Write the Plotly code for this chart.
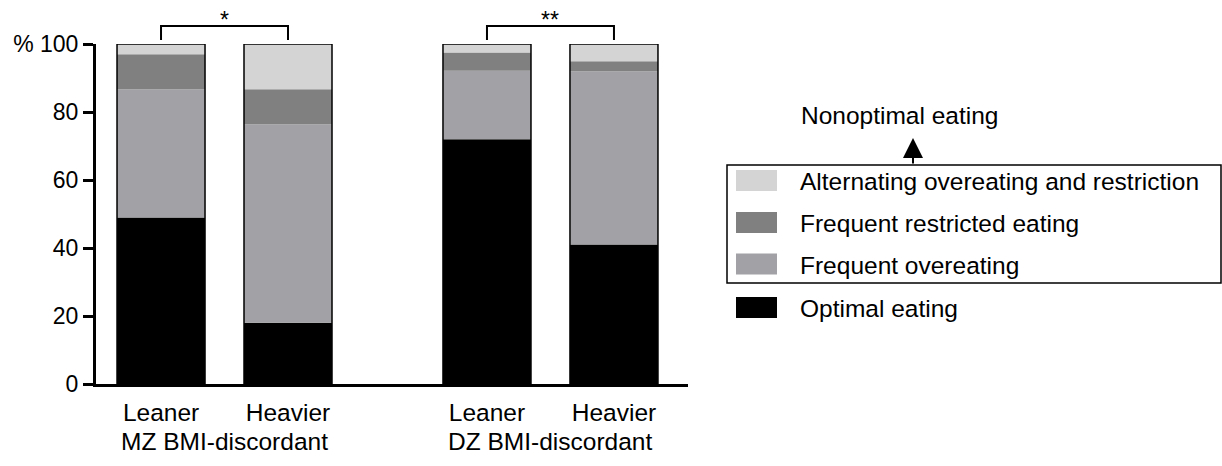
import numpy as np
import plotly.graph_objects as go

W, H = 1222, 466

# ---- data ----
groups = ["MZ BMI-discordant", "DZ BMI-discordant"]
members = ["Leaner", "Heavier"]
optimal = [49.0, 18.0, 72.0, 41.0]
overeating = [37.7, 58.4, 20.1, 51.0]
restricted = [10.3, 10.3, 5.4, 2.9]
alternating = [3.0, 13.3, 2.5, 5.1]
significance = ["*", "**"]

series_names = ["Optimal eating", "Frequent overeating",
                "Frequent restricted eating", "Alternating overeating and restriction"]
series_colors = ["#000000", "#a2a1a5", "#808080", "#d4d4d4"]
series_values = [optimal, overeating, restricted, alternating]

# ---- layout helpers ----
GROUP_STEP = 2.567
BAR_W = 0.693
x_pos = [g * GROUP_STEP + i for g in range(len(groups)) for i in range(len(members))]
tick_text = [m for g in groups for m in members]

FONT = "Liberation Sans, Arial, Helvetica, sans-serif"
TXT = 24.5

def px(x):
    return x / W

def py(y):
    return 1 - y / H

fig = go.Figure()

base = np.zeros(len(x_pos))
for name, col, vals in zip(series_names, series_colors, series_values):
    v = np.array(vals)
    fig.add_trace(go.Bar(x=x_pos, y=v, base=base.copy(), width=BAR_W,
                         marker=dict(color=col, line=dict(width=0)),
                         name=name, showlegend=False))
    base = base + v

# outline around each full bar
fig.add_trace(go.Bar(x=x_pos, y=base, base=np.zeros(len(x_pos)), width=BAR_W,
                     marker=dict(color="rgba(0,0,0,0)", line=dict(color="black", width=1.5)),
                     showlegend=False, hoverinfo="skip"))

shapes = []
# significance brackets
yb_top, yb_leg = py(26), py(40)
for g, sig in enumerate(significance):
    xa, xb = x_pos[2 * g], x_pos[2 * g + 1]
    shapes.append(dict(type="path", xref="x", yref="paper",
                       path=f"M {xa},{yb_leg} L {xa},{yb_top} L {xb},{yb_top} L {xb},{yb_leg}",
                       line=dict(color="black", width=2)))
    fig.add_annotation(x=(xa + xb) / 2, y=py(5), xref="x", yref="paper",
                       text=sig, showarrow=False, xanchor="center", yanchor="top",
                       font=dict(size=23, color="black", family=FONT))
    fig.add_annotation(x=(xa + xb) / 2, y=py(441), xref="x", yref="paper",
                       text=groups[g], showarrow=False, xanchor="center", yanchor="middle",
                       font=dict(size=TXT, color="black", family=FONT))

# custom legend
row_y = [180.5, 222.5, 264.0, 307.5]
legend_order = [3, 2, 1, 0]
for ry, idx in zip(row_y, legend_order):
    shapes.append(dict(type="rect", xref="paper", yref="paper",
                       x0=px(736), x1=px(777), y0=py(ry - 10.5), y1=py(ry + 10.5),
                       fillcolor=series_colors[idx], line=dict(width=0)))
    fig.add_annotation(x=px(798), y=py(ry + 1), xref="paper", yref="paper",
                       text=series_names[idx], showarrow=False,
                       xanchor="left", yanchor="middle",
                       font=dict(size=TXT, color="black", family=FONT))
shapes.append(dict(type="rect", xref="paper", yref="paper",
                   x0=px(727), x1=px(1221), y0=py(165), y1=py(283),
                   fillcolor="rgba(0,0,0,0)", line=dict(color="black", width=1.5)))

fig.add_annotation(x=px(913), y=py(138), xref="paper", yref="paper",
                   ax=0, ay=27, text="", showarrow=True,
                   arrowhead=2, arrowsize=2, arrowwidth=2, arrowcolor="black")
fig.add_annotation(x=px(899), y=py(115), xref="paper", yref="paper",
                   text="Nonoptimal eating", showarrow=False,
                   xanchor="center", yanchor="middle",
                   font=dict(size=TXT, color="black", family=FONT))

fig.update_layout(
    width=W, height=H,
    margin=dict(l=0, r=0, t=0, b=0),
    paper_bgcolor="white", plot_bgcolor="white",
    barmode="overlay",
    shapes=shapes,
    font=dict(family=FONT, color="black"),
    xaxis=dict(domain=[px(96), px(688)], range=[-0.512, 4.15],
               tickvals=x_pos, ticktext=tick_text, ticks="",
               showline=True, linewidth=3, linecolor="black",
               showgrid=False, zeroline=False, automargin=False,
               tickfont=dict(size=TXT, family=FONT, color="black"),
               ticklabelstandoff=5),
    yaxis=dict(domain=[py(384), py(44)], range=[0, 100],
               tickvals=[0, 20, 40, 60, 80, 100],
               ticktext=["0", "20", "40", "60", "80", "% 100"],
               ticks="outside", ticklen=10, tickwidth=2.5, tickcolor="black",
               showline=True, linewidth=3, linecolor="black",
               showgrid=False, zeroline=False, automargin=False,
               tickfont=dict(size=23, family=FONT, color="black")),
)

fig.write_html("out.html", config={"displayModeBar": False},
               post_script="document.body.style.margin='0px';document.body.style.overflow='hidden';")
